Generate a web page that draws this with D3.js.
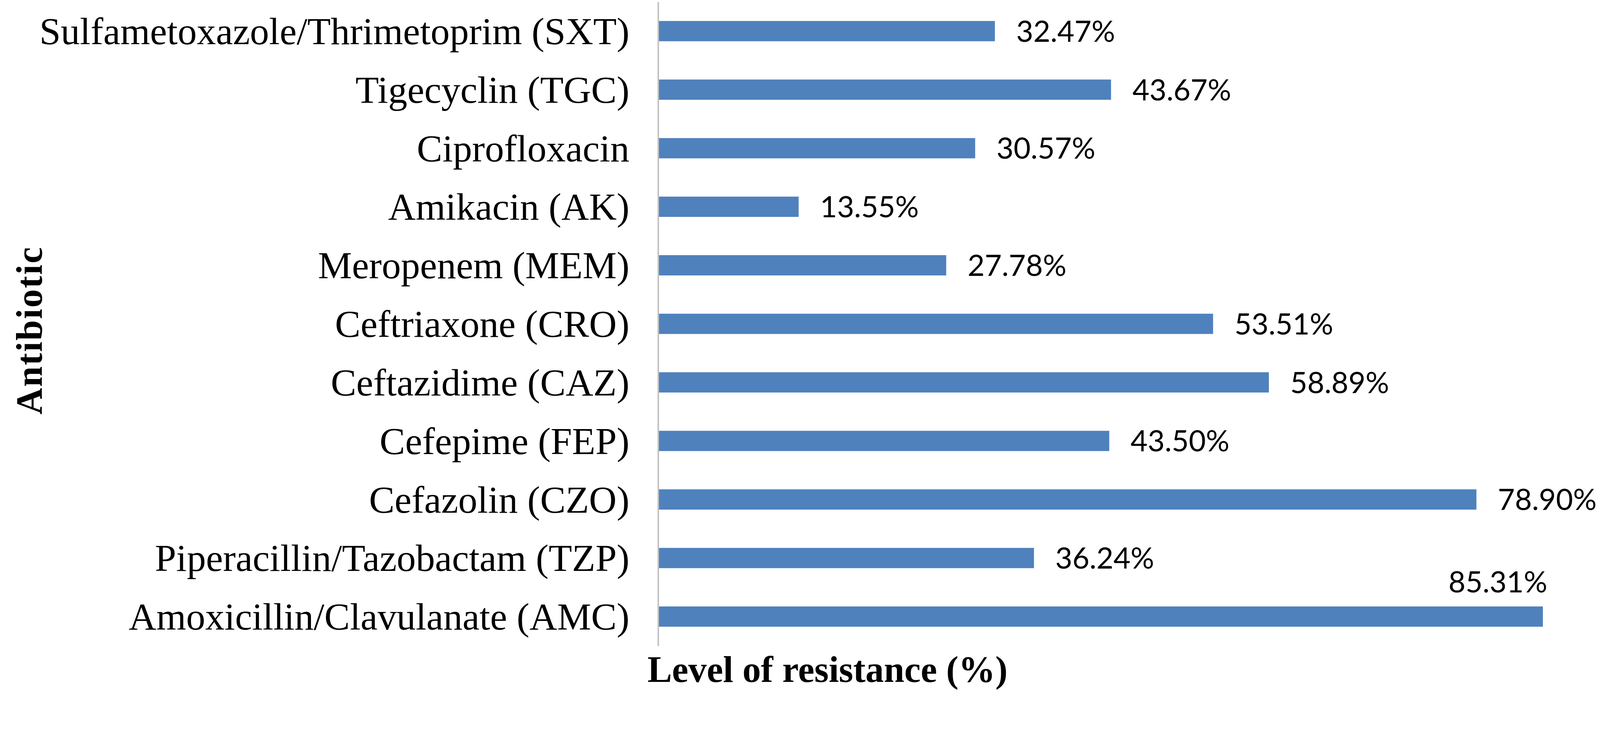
<!DOCTYPE html>
<html>
<head>
  <meta charset="utf-8">
  <title>Level of resistance by antibiotic</title>
  <script src="https://d3js.org/d3.v7.min.js"></script>
  <style>
    html, body { margin: 0; padding: 0; background: #fff; overflow: hidden; }
    #chart svg { display: block; width: 100vw; height: 100vh; }
    .cat { font-family: "Liberation Serif", serif; font-size: 104px; fill: #000; }
    .val { font-family: Lato, sans-serif; font-size: 80px; fill: #000; }
    .title { font-family: "Liberation Serif", serif; font-weight: bold; fill: #000; }
  </style>
</head>
<body>
  <div id="chart"></div>
  <script>
    // categories top to bottom
    const antibiotics = [
      "Sulfametoxazole/Thrimetoprim (SXT)",
      "Tigecyclin (TGC)",
      "Ciprofloxacin",
      "Amikacin (AK)",
      "Meropenem (MEM)",
      "Ceftriaxone (CRO)",
      "Ceftazidime (CAZ)",
      "Cefepime (FEP)",
      "Cefazolin (CZO)",
      "Piperacillin/Tazobactam (TZP)",
      "Amoxicillin/Clavulanate (AMC)"
    ];
    const resistance = [32.47, 43.67, 30.57, 13.55, 27.78, 53.51, 58.89, 43.50, 78.90, 36.24, 85.31];
    const xDomain = [0, 90];

    const width = 4347, height = 1886;
    const margin = { top: 5, right: 23, bottom: 132, left: 1788 };

    // viewBox so the whole chart fits the viewport, pinned to the top
    const svg = d3.select("#chart").append("svg")
      .attr("viewBox", `0 0 ${width} ${height}`)
      .attr("preserveAspectRatio", "xMidYMin meet");

    const x = d3.scaleLinear()
      .domain(xDomain)
      .range([margin.left, width - margin.right]);

    const y = d3.scaleBand()
      .domain(antibiotics)
      .range([margin.top, height - margin.bottom])
      .paddingInner(0.654)
      .paddingOuter(0.327);

    const rows = antibiotics.map((name, i) => ({ name, value: resistance[i] }));

    // bars
    svg.selectAll("rect.bar")
      .data(rows)
      .enter().append("rect")
      .attr("class", "bar")
      .attr("x", x(0))
      .attr("y", d => y(d.name))
      .attr("width", d => x(d.value) - x(0))
      .attr("height", y.bandwidth())
      .attr("fill", "#4f81bd");

    // vertical axis line, no ticks
    const yAxis = d3.axisLeft(y).tickSize(0).tickPadding(78);
    const gy = svg.append("g")
      .attr("transform", `translate(${x(0)},0)`)
      .call(yAxis);
    gy.select(".domain").attr("stroke", "#bfbfbf").attr("stroke-width", 4);
    gy.selectAll("text")
      .attr("class", "cat")
      .attr("font-family", null)
      .attr("font-size", null)
      .attr("dy", "0.34em");

    // value labels; the longest one sits above its bar as in the original
    const maxVal = d3.max(resistance);
    svg.selectAll("text.val")
      .data(rows)
      .enter().append("text")
      .attr("class", "val")
      .attr("x", d => d.value === maxVal ? x(d.value) + 12 : x(d.value) + 58)
      .attr("y", d => d.value === maxVal ? y(d.name) - 38 : y(d.name) + y.bandwidth() / 2)
      .attr("text-anchor", d => d.value === maxVal ? "end" : "start")
      .attr("dy", d => d.value === maxVal ? 0 : "0.36em")
      .text(d => d.value.toFixed(2) + "%");

    // axis titles
    svg.append("text")
      .attr("class", "title")
      .attr("x", 1759)
      .attr("y", 1852)
      .attr("font-size", 100)
      .text("Level of resistance (%)");

    svg.append("text")
      .attr("class", "title")
      .attr("transform", `translate(114,897) rotate(-90)`)
      .attr("text-anchor", "middle")
      .attr("font-size", 100)
      .attr("letter-spacing", 3)
      .text("Antibiotic");
  </script>
</body>
</html>
